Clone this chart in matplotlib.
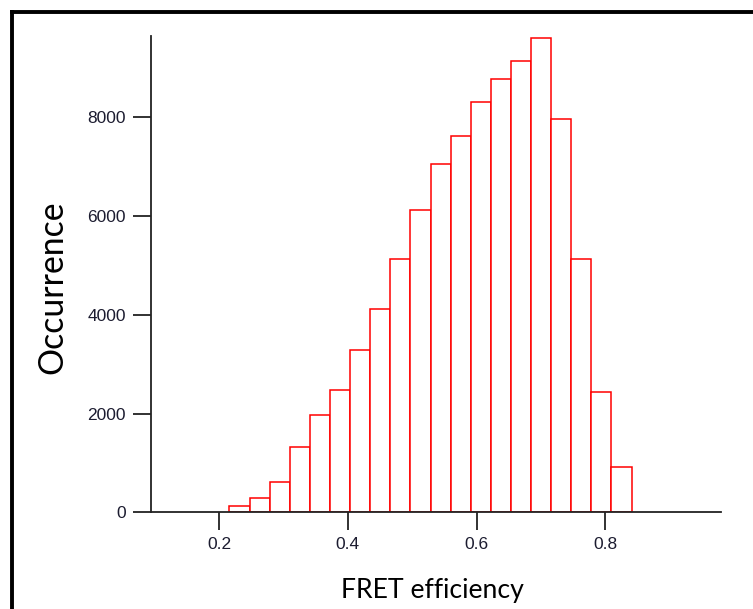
import matplotlib
matplotlib.use("Agg")
import matplotlib.pyplot as plt
import numpy as np

# histogram of FRET efficiencies (20 bins)
bin_start = 0.216
bin_width = 0.03125
counts = [140, 300, 620, 1320, 1975, 2470, 3290, 4125, 5130, 6130,
          7050, 7625, 8320, 8770, 9150, 9600, 7970, 5130, 2435, 915]
xticks = [0.2, 0.4, 0.6, 0.8]
yticks = [0, 2000, 4000, 6000, 8000]

edges = bin_start + bin_width * np.arange(len(counts) + 1)

fig = plt.figure(figsize=(7.53, 6.09), dpi=100)
ax = fig.add_axes([0.2005, 0.1585, 0.757, 0.7825])

ax.bar(edges[:-1], counts, width=bin_width, align="edge",
       facecolor="white", edgecolor="#ff0000", linewidth=1.1)

ax.set_xlim(0.094, 0.980)
ax.set_ylim(0, 9650)
ax.set_xticks(xticks)
ax.set_xticklabels([f"{t:.1f}" for t in xticks])
ax.set_yticks(yticks)
ax.set_yticklabels([str(t) for t in yticks])

for lab in ax.get_xticklabels() + ax.get_yticklabels():
    lab.set_family("Liberation Sans")
    lab.set_fontsize(12.5)
    lab.set_color("#1c1c30")
ax.tick_params(axis="both", direction="out", length=13, width=1.3,
               color="#222222", pad=5)

for side in ["top", "right"]:
    ax.spines[side].set_visible(False)
for side in ["left", "bottom"]:
    ax.spines[side].set_linewidth(1.3)
    ax.spines[side].set_color("#222222")

fig.text(0.574, 0.030, "FRET efficiency", fontsize=19.2, family="Lato",
         ha="center", va="center")
fig.text(0.0697, 0.529, "Occurrence", fontsize=24.3, family="Lato",
         rotation=90, ha="center", va="center")

# frame lines along the left and top of the figure
fig.add_artist(plt.Line2D([0.0153, 0.0153], [0, 0.9803], color="black",
                          linewidth=2.8, transform=fig.transFigure))
fig.add_artist(plt.Line2D([0.0153, 1.0], [0.9803, 0.9803], color="black",
                          linewidth=2.8, transform=fig.transFigure))

fig.savefig("out.png", dpi=100)
